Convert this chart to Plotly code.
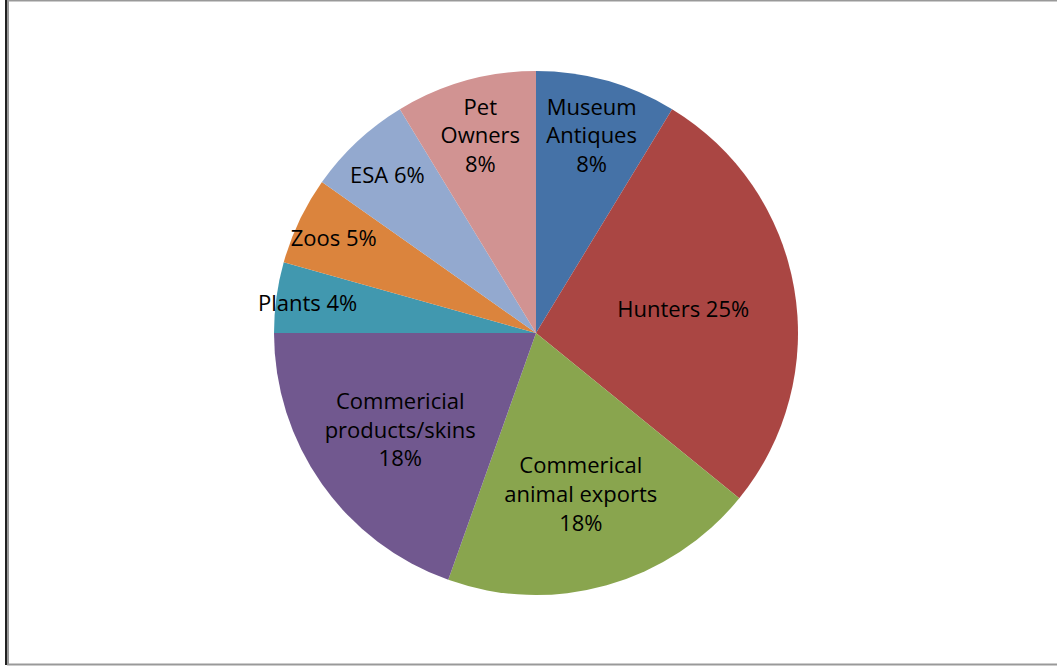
import plotly.graph_objects as go

categories = ["Museum Antiques", "Hunters", "Commerical animal exports",
              "Commericial products/skins", "Plants", "Zoos", "ESA", "Pet Owners"]
values = [8, 25, 18, 18, 4, 5, 6, 8]
text_labels = ["Museum<br>Antiques<br>8%", "Hunters 25%", "Commerical<br>animal exports<br>18%",
               "Commericial<br>products/skins<br>18%", "Plants 4%", "Zoos 5%", "ESA 6%",
               "Pet<br>Owners<br>8%"]
colors = ["#4572A7", "#AA4643", "#89A54E", "#71588F", "#4198AF", "#DB843D", "#93A9CF", "#D19392"]

W, H = 1057, 667
cx, cy, r = 536, 333, 262

fig = go.Figure(go.Pie(
    labels=categories,
    values=values,
    text=text_labels,
    textinfo="text",
    textposition="inside",
    insidetextorientation="horizontal",
    sort=False,
    direction="clockwise",
    rotation=0,
    marker=dict(colors=colors, line=dict(width=0)),
    textfont=dict(family="Open Sans, sans-serif", size=22, color="#000000"),
    showlegend=False,
    hoverinfo="label+value",
    domain=dict(x=[(cx - r) / W, (cx + r) / W], y=[1 - (cy + r) / H, 1 - (cy - r) / H]),
))

fig.update_layout(
    width=W, height=H,
    margin=dict(l=0, r=0, t=0, b=0),
    paper_bgcolor="white",
    plot_bgcolor="white",
    uniformtext=dict(minsize=22, mode="show"),
    shapes=[
        dict(type="rect", xref="paper", yref="paper",
             x0=8 / W, x1=1065 / W, y0=1 - 664.5 / H, y1=1 - 0.5 / H,
             line=dict(color="#999999", width=2), fillcolor="rgba(0,0,0,0)"),
        dict(type="line", xref="paper", yref="paper",
             x0=6 / W, x1=6 / W, y0=1 - 665 / H, y1=1,
             line=dict(color="#222222", width=2)),
    ],
)

fig.write_html("out.html", config={"displayModeBar": False},
               post_script="document.body.style.margin='0';document.body.style.overflow='hidden';")
